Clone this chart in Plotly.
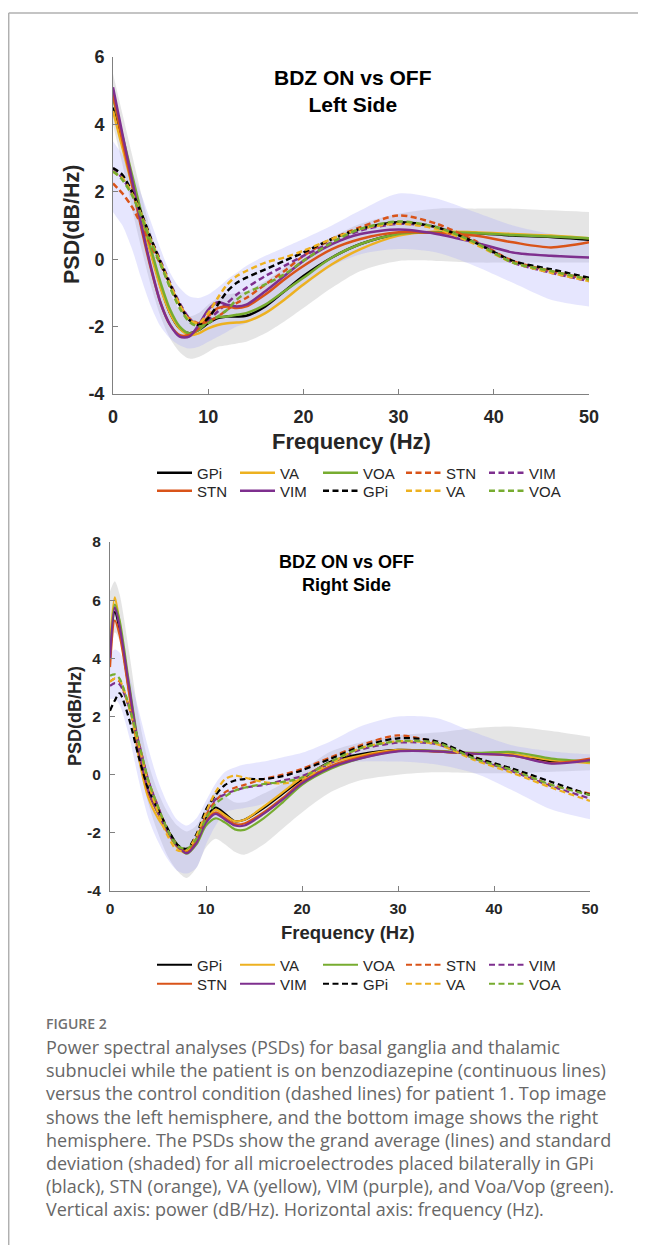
import plotly.graph_objects as go

# the page body adds an 8px margin, so the figure is 8px smaller than the window
W, H = 638, 1237
OFF = 8

# ---------------- data ----------------
freq = [0, 0.5, 1, 2, 3, 4, 5, 6, 7, 8, 9, 10, 11, 12, 13, 14, 16, 18, 20, 23, 26, 30, 34, 38, 42, 46, 50]

# Left side (top panel) - BDZ ON (solid)
L_gpi_on = [4.5, 3.95, 3.4, 2.3, 1.2, 0.2, -0.8, -1.6, -2.05, -2.2, -2.1, -1.9, -1.75, -1.7, -1.7, -1.68, -1.4, -0.95, -0.5, 0.05, 0.45, 0.75, 0.8, 0.78, 0.7, 0.66, 0.58]
L_va_on = [4.4, 3.85, 3.3, 2.2, 1.15, 0.15, -0.85, -1.6, -2.05, -2.25, -2.2, -2.05, -1.95, -1.9, -1.88, -1.85, -1.6, -1.2, -0.75, -0.15, 0.3, 0.7, 0.82, 0.8, 0.75, 0.7, 0.62]
L_voa_on = [4.8, 4.2, 3.65, 2.5, 1.35, 0.3, -0.7, -1.5, -2.0, -2.2, -2.1, -1.85, -1.72, -1.7, -1.65, -1.6, -1.35, -0.95, -0.55, 0.05, 0.45, 0.75, 0.8, 0.78, 0.72, 0.67, 0.62]
L_stn_on = [4.9, 4.2, 3.5, 2.2, 0.9, -0.3, -1.3, -1.95, -2.25, -2.25, -2.05, -1.7, -1.45, -1.4, -1.45, -1.4, -1.05, -0.6, -0.2, 0.3, 0.6, 0.8, 0.78, 0.7, 0.5, 0.35, 0.5]
L_vim_on = [5.1, 4.4, 3.7, 2.35, 1.0, -0.25, -1.3, -1.95, -2.3, -2.3, -1.95, -1.5, -1.28, -1.35, -1.4, -1.35, -0.95, -0.5, -0.05, 0.45, 0.75, 0.88, 0.75, 0.5, 0.2, 0.1, 0.05]
# Left side - BDZ OFF (dashed)
L_stn_off = [2.25, 2.1, 1.95, 1.55, 1.0, 0.4, -0.15, -0.8, -1.35, -1.75, -1.9, -1.85, -1.7, -1.5, -1.3, -1.15, -0.75, -0.35, 0.1, 0.6, 0.95, 1.3, 1.05, 0.55, -0.05, -0.35, -0.6]
L_vim_off = [2.7, 2.55, 2.4, 1.95, 1.3, 0.6, -0.05, -0.7, -1.3, -1.75, -1.95, -1.8, -1.55, -1.3, -1.05, -0.85, -0.5, -0.2, 0.1, 0.5, 0.85, 1.05, 0.95, 0.5, -0.1, -0.4, -0.65]
L_gpi_off = [2.7, 2.62, 2.5, 2.0, 1.35, 0.6, -0.1, -0.75, -1.35, -1.8, -1.95, -1.75, -1.35, -0.95, -0.7, -0.55, -0.3, -0.05, 0.2, 0.6, 0.9, 1.1, 0.95, 0.5, -0.05, -0.3, -0.55]
L_va_off = [2.6, 2.5, 2.4, 1.95, 1.3, 0.55, -0.1, -0.75, -1.35, -1.8, -1.9, -1.6, -1.15, -0.75, -0.5, -0.35, -0.1, 0.05, 0.25, 0.6, 0.9, 1.05, 0.9, 0.45, -0.1, -0.4, -0.65]
L_voa_off = [2.6, 2.5, 2.35, 1.9, 1.25, 0.5, -0.15, -0.85, -1.45, -1.85, -2.0, -1.9, -1.7, -1.5, -1.2, -1.0, -0.75, -0.45, -0.05, 0.5, 0.9, 1.12, 0.95, 0.5, -0.1, -0.35, -0.6]
# Left side - standard deviation bands
L_grey_hi = [5.5, 4.9, 4.3, 3.1, 1.9, 0.8, -0.2, -1.0, -1.5, -1.7, -1.6, -1.35, -1.15, -1.05, -1.0, -0.95, -0.65, -0.25, 0.15, 0.65, 1.05, 1.35, 1.5, 1.5, 1.5, 1.45, 1.4]
L_grey_lo = [4.0, 3.4, 2.8, 1.5, 0.3, -0.8, -1.7, -2.35, -2.75, -2.95, -2.9, -2.75, -2.6, -2.55, -2.5, -2.45, -2.2, -1.85, -1.45, -0.85, -0.35, -0.05, -0.05, -0.1, -0.1, -0.1, -0.1]
L_lav_hi = [3.5, 3.3, 3.1, 2.6, 1.9, 1.1, 0.3, -0.4, -0.85, -1.1, -1.15, -1.05, -0.85, -0.6, -0.4, -0.2, 0.1, 0.35, 0.6, 1.0, 1.45, 1.95, 1.8, 1.4, 1.0, 0.75, 0.6]
L_lav_lo = [1.4, 1.2, 1.0, 0.3, -0.6, -1.4, -2.0, -2.35, -2.55, -2.65, -2.6, -2.45, -2.3, -2.15, -2.0, -1.9, -1.6, -1.2, -0.8, -0.2, 0.15, 0.3, 0.2, -0.2, -0.7, -1.2, -1.4]

# Right side (bottom panel) - BDZ ON (solid)
R_gpi_on = [4.3, 5.6, 5.0, 2.9, 0.9, -0.6, -1.3, -1.9, -2.4, -2.65, -2.3, -1.5, -1.13, -1.35, -1.6, -1.55, -1.15, -0.65, -0.15, 0.45, 0.7, 0.85, 0.8, 0.72, 0.7, 0.45, 0.48]
R_va_on = [4.5, 6.1, 5.2, 2.8, 0.6, -0.8, -1.5, -2.0, -2.5, -2.7, -2.3, -1.6, -1.2, -1.4, -1.6, -1.55, -1.1, -0.6, -0.1, 0.4, 0.65, 0.85, 0.8, 0.72, 0.7, 0.5, 0.4]
R_voa_on = [4.0, 5.85, 5.3, 3.1, 1.0, -0.5, -1.3, -1.9, -2.4, -2.72, -2.4, -1.75, -1.5, -1.65, -1.88, -1.9, -1.5, -0.95, -0.35, 0.2, 0.55, 0.82, 0.82, 0.75, 0.78, 0.55, 0.45]
R_stn_on = [3.7, 5.3, 4.8, 2.8, 0.8, -0.6, -1.3, -1.95, -2.45, -2.68, -2.3, -1.6, -1.3, -1.5, -1.7, -1.68, -1.3, -0.8, -0.25, 0.3, 0.6, 0.82, 0.8, 0.72, 0.65, 0.4, 0.55]
R_vim_on = [4.0, 5.75, 5.1, 3.0, 0.9, -0.55, -1.3, -1.95, -2.45, -2.7, -2.35, -1.65, -1.35, -1.55, -1.75, -1.75, -1.35, -0.85, -0.3, 0.25, 0.55, 0.8, 0.8, 0.72, 0.65, 0.38, 0.5]
# Right side - BDZ OFF (dashed)
R_stn_off = [3.2, 3.3, 3.2, 2.3, 1.1, -0.2, -1.1, -1.9, -2.45, -2.6, -2.2, -1.4, -0.9, -0.6, -0.45, -0.35, -0.15, 0.0, 0.2, 0.6, 1.0, 1.35, 1.1, 0.6, 0.15, -0.35, -0.65]
R_vim_off = [3.05, 3.15, 3.1, 2.3, 1.1, -0.2, -1.1, -1.9, -2.45, -2.55, -2.1, -1.3, -0.85, -0.67, -0.55, -0.45, -0.35, -0.2, -0.05, 0.4, 0.85, 1.1, 1.05, 0.55, 0.1, -0.4, -0.82]
R_gpi_off = [2.2, 2.55, 2.8, 1.9, 0.6, -0.5, -1.2, -1.85, -2.4, -2.55, -2.05, -1.2, -0.7, -0.35, -0.2, -0.15, -0.15, -0.05, 0.15, 0.55, 0.95, 1.25, 1.15, 0.6, 0.2, -0.25, -0.7]
R_va_off = [3.2, 3.3, 3.25, 2.3, 1.0, -0.3, -1.3, -2.1, -2.6, -2.6, -2.1, -1.3, -0.6, -0.15, -0.03, -0.1, -0.25, -0.3, -0.15, 0.4, 0.9, 1.15, 1.05, 0.5, 0.05, -0.45, -0.9]
R_voa_off = [3.4, 3.45, 3.3, 2.35, 1.1, -0.2, -1.1, -1.9, -2.45, -2.55, -2.2, -1.5, -1.0, -0.75, -0.55, -0.45, -0.32, -0.25, -0.1, 0.45, 0.9, 1.15, 1.1, 0.55, 0.15, -0.35, -0.7]
# Right side - standard deviation bands
R_grey_hi = [6.3, 6.65, 6.2, 4.2, 2.0, 0.4, -0.6, -1.3, -1.75, -1.95, -1.75, -1.1, -0.6, -0.75, -0.95, -0.95, -0.65, -0.3, 0.15, 0.8, 1.1, 1.35, 1.45, 1.6, 1.65, 1.5, 1.3]
R_grey_lo = [3.5, 4.9, 4.6, 2.4, 0.4, -1.0, -2.0, -2.8, -3.3, -3.55, -3.2, -2.5, -2.2, -2.4, -2.65, -2.75, -2.4, -1.85, -1.3, -0.6, -0.2, 0.0, 0.08, 0.05, 0.05, 0.1, 0.15]
R_lav_hi = [4.1, 4.3, 4.2, 3.4, 2.2, 0.9, -0.2, -1.0, -1.55, -1.75, -1.5, -0.9, -0.3, 0.1, 0.25, 0.35, 0.45, 0.6, 0.75, 1.15, 1.65, 2.0, 1.95, 1.45, 1.0, 0.8, 0.7]
R_lav_lo = [2.6, 2.6, 2.4, 1.3, -0.2, -1.5, -2.3, -2.9, -3.3, -3.4, -3.2, -2.4, -1.75, -1.3, -1.2, -1.15, -1.0, -0.65, -0.3, 0.3, 0.45, 0.45, 0.35, 0.05, -0.55, -1.2, -1.53]

x_ticks = [0, 10, 20, 30, 40, 50]
L_y_ticks = [-4, -2, 0, 2, 4, 6]
L_y_labels = ["-4", "-2", "0", "2", "4", "6"]
R_y_ticks = [-4, -2, 0, 2, 4, 6, 8]
R_y_labels = ["-4", "-2", "0", "2", "4", "6", "8"]

caption_title = "FIGURE 2"
caption_lines = [
    "Power spectral analyses (PSDs) for basal ganglia and thalamic",
    "subnuclei while the patient is on benzodiazepine (continuous lines)",
    "versus the control condition (dashed lines) for patient 1. Top image",
    "shows the left hemisphere, and the bottom image shows the right",
    "hemisphere. The PSDs show the grand average (lines) and standard",
    "deviation (shaded) for all microelectrodes placed bilaterally in GPi",
    "(black), STN (orange), VA (yellow), VIM (purple), and Voa/Vop (green).",
    "Vertical axis: power (dB/Hz). Horizontal axis: frequency (Hz).",
]

# ---------------- style ----------------
C = {"GPi": "#000000", "VA": "#EDB120", "VOA": "#77AC30", "STN": "#D95319", "VIM": "#7E2F8E"}
GREY_FILL = "rgba(150,150,150,0.25)"
LAV_FILL = "rgba(165,165,250,0.28)"
DASH = "6px,3.5px"
AX_COL = "#808080"
TXT = "#262626"
FONT = "Liberation Sans, Arial, sans-serif"

fig = go.Figure()


def px_x(x):
    return (x - OFF) / W


def px_y(y):
    return 1 - (y - OFF) / H


def add_band(hi, lo, fill, xa, ya):
    fig.add_trace(go.Scatter(x=freq, y=lo, mode="lines", line=dict(width=0, shape="spline", smoothing=0.8),
                             showlegend=False, hoverinfo="skip", xaxis=xa, yaxis=ya))
    fig.add_trace(go.Scatter(x=freq, y=hi, mode="lines", line=dict(width=0, shape="spline", smoothing=0.8),
                             fill="tonexty", fillcolor=fill, showlegend=False, hoverinfo="skip",
                             xaxis=xa, yaxis=ya))


def add_panel(series, bands, xa, ya, legends, lw):
    for hi, lo, fill in bands:
        add_band(hi, lo, fill, xa, ya)
    for i, (name, vals, dashed) in enumerate(series):
        fig.add_trace(go.Scatter(
            x=freq, y=vals, mode="lines", name=name,
            line=dict(color=C[name], width=lw, dash=DASH if dashed else "solid", shape="spline", smoothing=0.8),
            xaxis=xa, yaxis=ya, legend=legends[i // 5]))


L_series = [("GPi", L_gpi_on, False), ("VA", L_va_on, False), ("VOA", L_voa_on, False),
            ("STN", L_stn_off, True), ("VIM", L_vim_off, True),
            ("STN", L_stn_on, False), ("VIM", L_vim_on, False),
            ("GPi", L_gpi_off, True), ("VA", L_va_off, True), ("VOA", L_voa_off, True)]
R_series = [("GPi", R_gpi_on, False), ("VA", R_va_on, False), ("VOA", R_voa_on, False),
            ("STN", R_stn_off, True), ("VIM", R_vim_off, True),
            ("STN", R_stn_on, False), ("VIM", R_vim_on, False),
            ("GPi", R_gpi_off, True), ("VA", R_va_off, True), ("VOA", R_voa_off, True)]

add_panel(L_series, [(L_grey_hi, L_grey_lo, GREY_FILL), (L_lav_hi, L_lav_lo, LAV_FILL)], "x", "y",
          ["legend", "legend2"], 2.5)
add_panel(R_series, [(R_grey_hi, R_grey_lo, GREY_FILL), (R_lav_hi, R_lav_lo, LAV_FILL)], "x2", "y2",
          ["legend3", "legend4"], 2.2)

axis_common = dict(showline=True, linecolor=AX_COL, linewidth=1, ticks="inside", tickcolor=AX_COL,
                   ticklen=5, tickwidth=1, showgrid=False, zeroline=False, mirror=False)


def legend_row(y_center):
    return dict(orientation="h", x=px_x(152), y=px_y(y_center), xref="paper", yref="paper",
                xanchor="left", yanchor="middle", traceorder="normal",
                font=dict(family=FONT, size=15, color=TXT), entrywidth=33, entrywidthmode="pixels",
                bgcolor="rgba(0,0,0,0)", borderwidth=0, itemwidth=35, tracegroupgap=0)


fig.update_layout(
    width=W, height=H, margin=dict(l=0, r=0, t=0, b=0, autoexpand=False),
    paper_bgcolor="white", plot_bgcolor="rgba(0,0,0,0)",
    xaxis=dict(domain=[px_x(113), px_x(589)], range=[0, 50], tickvals=x_ticks, anchor="y", ticklabelstandoff=6,
               tickfont=dict(family=FONT, size=18, color=TXT, weight="bold"), **axis_common),
    yaxis=dict(domain=[px_y(394), px_y(57)], range=[-4, 6], tickvals=L_y_ticks, ticktext=L_y_labels,
               anchor="x", ticklabelstandoff=4,
               tickfont=dict(family=FONT, size=18, color=TXT, weight="bold"), **axis_common),
    xaxis2=dict(domain=[px_x(110), px_x(590)], range=[0, 50], tickvals=x_ticks, anchor="y2", ticklabelstandoff=3,
                tickfont=dict(family=FONT, size=15.5, color=TXT, weight="bold"), **axis_common),
    yaxis2=dict(domain=[px_y(891), px_y(542)], range=[-4, 8], tickvals=R_y_ticks, ticktext=R_y_labels,
                anchor="x2", ticklabelstandoff=5,
                tickfont=dict(family=FONT, size=15.5, color=TXT, weight="bold"), **axis_common),
    legend=legend_row(473), legend2=legend_row(491),
    legend3=legend_row(965), legend4=legend_row(984),
    showlegend=True,
)

ann = []
common = dict(xref="paper", yref="paper", showarrow=False)
# panel titles
ann.append(dict(text="<b>BDZ ON vs OFF</b><br><b>Left Side</b>", x=px_x(353), y=px_y(91), xanchor="center",
                yanchor="middle", font=dict(family=FONT, size=21, color="#000"), **common))
ann.append(dict(text="<b>BDZ ON vs OFF</b><br><b>Right Side</b>", x=px_x(346), y=px_y(573), xanchor="center",
                yanchor="middle", font=dict(family=FONT, size=18, color="#000"), **common))
# axis titles
ann.append(dict(text="<b>PSD(dB/Hz)</b>", x=px_x(72), y=px_y(225), textangle=-90, xanchor="center",
                yanchor="middle", font=dict(family=FONT, size=21.5, color=TXT), **common))
ann.append(dict(text="<b>Frequency (Hz)</b>", x=px_x(351), y=px_y(441), xanchor="center",
                yanchor="middle", font=dict(family=FONT, size=22, color=TXT), **common))
ann.append(dict(text="<b>PSD(dB/Hz)</b>", x=px_x(75), y=px_y(716), textangle=-90, xanchor="center",
                yanchor="middle", font=dict(family=FONT, size=18, color=TXT), **common))
ann.append(dict(text="<b>Frequency (Hz)</b>", x=px_x(348), y=px_y(932), xanchor="center",
                yanchor="middle", font=dict(family=FONT, size=18.5, color=TXT), **common))
# caption
ann.append(dict(text=caption_title, x=px_x(44), y=px_y(1023), xanchor="left", yanchor="middle",
                font=dict(family="Open Sans", size=14, color="#707070", weight=600), **common))
for i, line in enumerate(caption_lines):
    ann.append(dict(text=line, x=px_x(44), y=px_y(1047 + i * 23.2), xanchor="left", yanchor="middle",
                    font=dict(family="Open Sans", size=18, color="#676767"), **common))
fig.update_layout(annotations=ann)

# page frame lines
fig.add_shape(type="line", xref="paper", yref="paper", x0=px_x(8.7), x1=1, y0=px_y(13), y1=px_y(13),
              line=dict(color="#b0b0b0", width=1.5))
fig.add_shape(type="line", xref="paper", yref="paper", x0=px_x(8.7), x1=px_x(8.7), y0=0, y1=px_y(13),
              line=dict(color="#b0b0b0", width=1.5))

fig.write_html("out.html")
